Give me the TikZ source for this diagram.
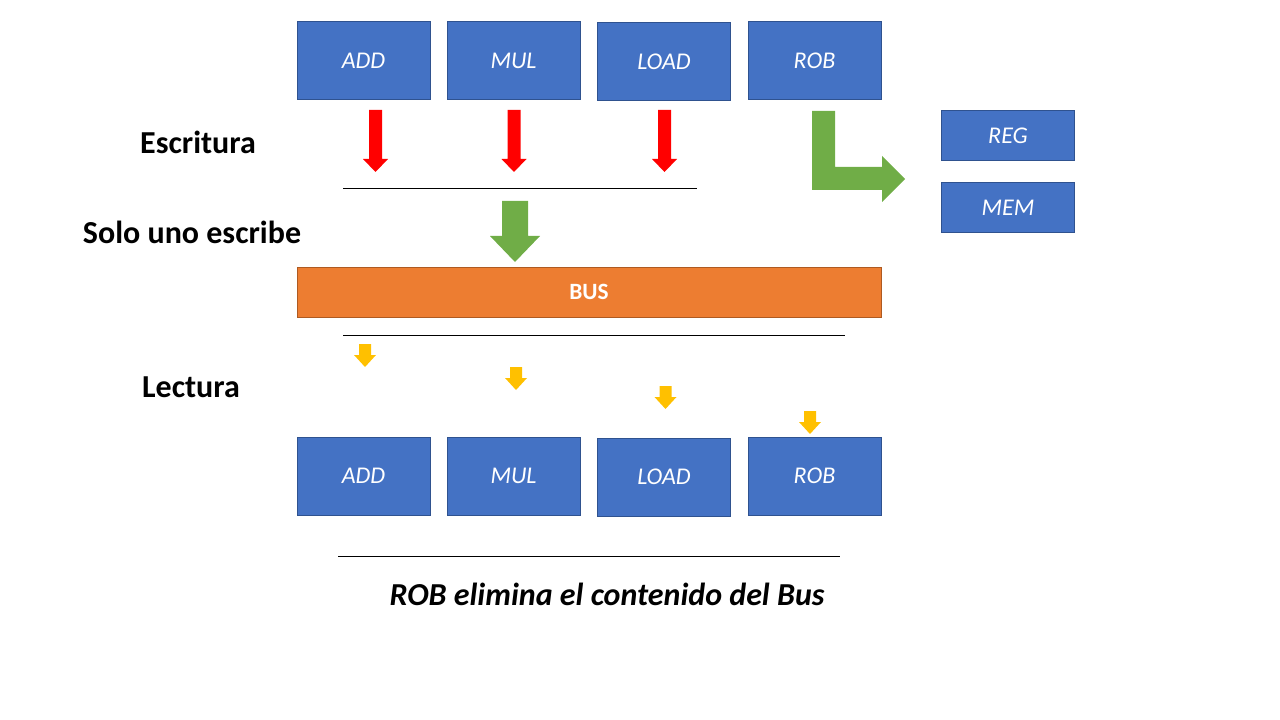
\documentclass[tikz,border=0pt]{standalone}
\usepackage{fontspec}
\setmainfont{Carlito}
\usepackage{xcolor}
\usepackage{tikz}
\definecolor{boxblue}{HTML}{4472C4}
\definecolor{boxedge}{HTML}{2F528F}
\definecolor{busorange}{HTML}{ED7D31}
\definecolor{busedge}{HTML}{AE5A21}
\definecolor{arrowgreen}{HTML}{70AD47}
\definecolor{arrowyellow}{HTML}{FFC000}
\tikzset{
	unitbox/.style={fill=boxblue, draw=boxedge, line width=0.75pt, text=white, inner sep=0pt,
		minimum width=99.75pt, minimum height=58.5pt, font=\itshape\fontsize{18}{22}\selectfont},
	smallbox/.style={unitbox, minimum height=37.5pt},
	steplabel/.style={font=\bfseries\fontsize{24}{29}\selectfont}
}
\begin{document}
\begin{tikzpicture}[x=0.75pt,y=-0.75pt]
				\useasboundingbox (0,0) rectangle (1280,720);
				
				% units (top row)
				\foreach \x/\y/\z in
				{ADD/363.5/61, MUL/513.5/61, LOAD/664/62, ROB/814.5/61}{
					\node[unitbox] (\x top) at (\y,\z) {\x};
				}
				% units (bottom row)
				\foreach \x/\y/\z in
				{ADD/363.5/476, MUL/513.5/476, LOAD/664/477, ROB/814.5/476}{
					\node[unitbox] (\x bot) at (\y,\z) {\x};
				}
				
				\node[smallbox] (REG) at (1008,136) {REG};
				\node[smallbox] (MEM) at (1008,207.5) {MEM};
				
				\node[fill=busorange, draw=busedge, line width=0.75pt, text=white, inner sep=0pt,
					minimum width=438pt, minimum height=37.5pt,
					font=\bfseries\fontsize{17.5}{21}\selectfont] (BUS) at (589,292) {BUS};
				
				% left texts
				\node[steplabel] (escritura) at (198,142) {Escritura};
				\node[steplabel] (solo) at (192,232) {Solo uno escribe};
				\node[steplabel] (lectura) at (191,387) {Lectura};
				\node[font=\bfseries\itshape\fontsize{24}{29}\selectfont] (nota) at (607,594) {ROB elimina el contenido del Bus};
				
				% rules
				\draw[line width=0.75pt] (343,189) -- (697,189);
				\draw[line width=0.75pt] (343,335) -- (845,335);
				\draw[line width=0.75pt] (338,556) -- (840,556);
				
				% writing arrows
				\foreach \x in {375.5, 514, 664.5}{
					\fill[red] (\x-6.5,110) -- (\x+6.5,110) -- (\x+6.5,159) -- (\x+12.5,159)
						-- (\x,172) -- (\x-12.5,159) -- (\x-6.5,159) -- cycle;
				}
				
				% one writes onto the bus
				\fill[arrowgreen] (502,201) -- (528,201) -- (528,236) -- (540,236)
					-- (515,262) -- (490,236) -- (502,236) -- cycle;
				
				% ROB to REG/MEM
				\fill[arrowgreen] (812,111) -- (835,111) -- (835,167) -- (882,167) -- (882,156)
					-- (905,179) -- (882,202) -- (882,190) -- (812,190) -- cycle;
				
				% reading arrows
				\foreach \x/\y in
				{365/344, 516/367, 665.5/386, 810/411}{
					\fill[arrowyellow] (\x-6,\y) -- (\x+6,\y) -- (\x+6,\y+11) -- (\x+11,\y+11)
						-- (\x,\y+23) -- (\x-11,\y+11) -- (\x-6,\y+11) -- cycle;
				}
			\end{tikzpicture}
\end{document}
